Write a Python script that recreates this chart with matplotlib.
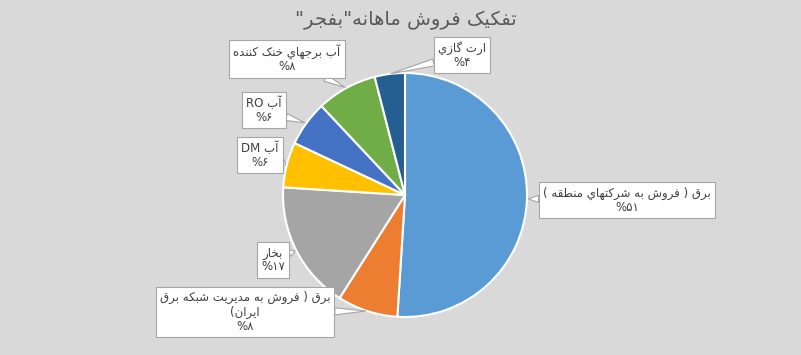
import matplotlib
matplotlib.use("Agg")
import matplotlib.pyplot as plt
import numpy as np

title = 'تفکیک فروش ماهانه"بفجر"'
labels = [
    "برق ( فروش به شرکتهاي منطقه )",
    "برق ( فروش به مديريت شبکه برق\nايران)",
    "بخار",
    "آب DM",
    "آب RO",
    "آب برجهاي خنک کننده",
    "ارت گازي",
]
values = [51, 8, 17, 6, 6, 8, 4]
pct_text = ["۵۱", "۸", "۱۷", "۶", "۶", "۸", "۴"]
colors = ["#5b9bd5", "#ed7d31", "#a5a5a5", "#ffc000", "#4472c4", "#70ad47", "#255e91"]
# label box centres in pixels
label_pos = [(627, 200), (245, 312), (273, 260), (260, 155), (264, 110), (287, 59), (462, 55)]

# arabic presentation forms: isolated, final, initial, medial
FORMS = {
    "ا": (0xFE8D, 0xFE8E), "آ": (0xFE81, 0xFE82),
    "د": (0xFEA9, 0xFEAA), "ر": (0xFEAD, 0xFEAE),
    "ز": (0xFEAF, 0xFEB0), "و": (0xFEED, 0xFEEE),
    "ب": (0xFE8F, 0xFE90, 0xFE91, 0xFE92), "ت": (0xFE95, 0xFE96, 0xFE97, 0xFE98),
    "ج": (0xFE9D, 0xFE9E, 0xFE9F, 0xFEA0), "خ": (0xFEA5, 0xFEA6, 0xFEA7, 0xFEA8),
    "ش": (0xFEB5, 0xFEB6, 0xFEB7, 0xFEB8), "ط": (0xFEC1, 0xFEC2, 0xFEC3, 0xFEC4),
    "ف": (0xFED1, 0xFED2, 0xFED3, 0xFED4), "ق": (0xFED5, 0xFED6, 0xFED7, 0xFED8),
    "ک": (0xFB8E, 0xFB8F, 0xFB90, 0xFB91), "گ": (0xFB92, 0xFB93, 0xFB94, 0xFB95),
    "م": (0xFEE1, 0xFEE2, 0xFEE3, 0xFEE4), "ن": (0xFEE5, 0xFEE6, 0xFEE7, 0xFEE8),
    "ه": (0xFEE9, 0xFEEA, 0xFEEB, 0xFEEC), "ی": (0xFBFC, 0xFBFD, 0xFBFE, 0xFBFF),
    "ي": (0xFEF1, 0xFEF2, 0xFEF3, 0xFEF4),
}
MIRROR = {"(": ")", ")": "("}


def joins_left(ch):
    return ch in FORMS and len(FORMS[ch]) == 4


def shape(text):
    # contextual forms in logical order
    shaped = []
    for i, ch in enumerate(text):
        if ch not in FORMS:
            shaped.append(ch)
            continue
        f = FORMS[ch]
        prev_join = i > 0 and joins_left(text[i - 1])
        next_join = len(f) == 4 and i < len(text) - 1 and text[i + 1] in FORMS
        k = 3 if prev_join and next_join else 2 if next_join else 1 if prev_join else 0
        shaped.append(chr(f[k]))
    # right-to-left paragraph: reverse, keep latin runs in order
    runs, cur, cur_ltr = [], "", None
    for ch in shaped:
        ltr = ch.isascii() and ch.isalnum()
        if cur and ltr != cur_ltr:
            runs.append((cur, cur_ltr))
            cur = ""
        cur += ch
        cur_ltr = ltr
    if cur:
        runs.append((cur, cur_ltr))
    out = ""
    for s, ltr in reversed(runs):
        out += s if ltr else "".join(MIRROR.get(c, c) for c in reversed(s))
    return out


plt.rcParams["font.family"] = ["DejaVu Sans"]
W, H = 801, 355
cx, cy, R = 405, 195, 122
fig = plt.figure(figsize=(W / 100, H / 100), dpi=100)
fig.patch.set_facecolor("#d9d9d9")
ax = fig.add_axes([0, 0, 1, 1])
ax.set_facecolor("#d9d9d9")

wedges, _ = ax.pie(values, colors=colors, startangle=90, counterclock=False, radius=1,
                   wedgeprops=dict(edgecolor="white", linewidth=1.5))
ax.set_aspect("auto")
ax.set_xlim(-cx / R, (W - cx) / R)
ax.set_ylim(-(H - cy) / R, cy / R)
ax.axis("off")

cum = np.cumsum(values) - np.array(values) / 2
for i, w in enumerate(wedges):
    ang = np.deg2rad(90 - cum[i] / sum(values) * 360)
    px, py = label_pos[i]
    txt = "\n".join(shape(line) for line in labels[i].split("\n")) + "\n%" + pct_text[i]
    ax.annotate(txt, xy=(np.cos(ang), np.sin(ang)),
                xytext=((px - cx) / R, (cy - py) / R),
                ha="center", va="center", multialignment="center",
                fontsize=8.5, color="#404040", linespacing=1.1,
                bbox=dict(boxstyle="square,pad=0.35", fc="white", ec="#a6a6a6", lw=0.8),
                arrowprops=dict(arrowstyle="wedge,tail_width=0.6", fc="white", ec="#a6a6a6",
                                lw=0.8, shrinkA=0, shrinkB=1))

fig.text(406 / W, 1 - 20 / H, shape(title), ha="center", va="center",
         fontsize=14, color="#595959")

fig.savefig("out.png", dpi=100, facecolor=fig.get_facecolor())
